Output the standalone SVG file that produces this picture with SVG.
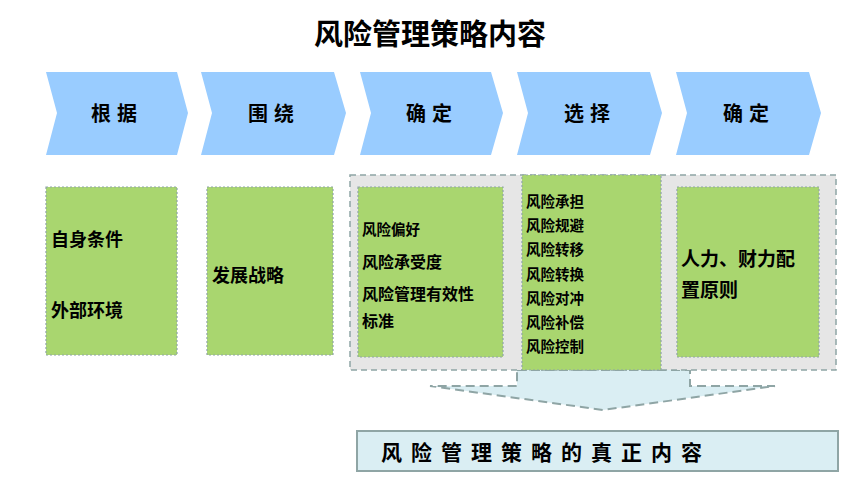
<svg xmlns="http://www.w3.org/2000/svg" width="859" height="483" viewBox="0 0 859 483">
<style>
text{font-family:"Noto Sans CJK SC","Liberation Sans",sans-serif;font-weight:bold;fill:#000}
.ch{fill:#99CCFF}
.ct{font-size:20px;letter-spacing:6px}
.g{fill:#A9D66F;stroke:#8FA5A5;stroke-width:1.2;stroke-dasharray:2 2}
.b{font-size:18px}
.s{font-size:14.5px}
</style>
<rect width="859" height="483" fill="#fff"/>
<text x="430" y="45" font-size="29" text-anchor="middle">风险管理策略内容</text>
<g id="chevrons">
<polygon class="ch" points="46,72 177,72 188,113 177,155 46,155 57,113"/>
<polygon class="ch" points="201,72 334,72 346,113 334,155 201,155 212,113"/>
<polygon class="ch" points="360,72 491,72 503,113 491,155 360,155 371,113"/>
<polygon class="ch" points="517,72 650,72 662,113 650,155 517,155 528,113"/>
<polygon class="ch" points="676,72 809,72 821,113 809,155 676,155 687,113"/>
<text class="ct" x="117" y="121" text-anchor="middle">根据</text>
<text class="ct" x="274" y="121" text-anchor="middle">围绕</text>
<text class="ct" x="432" y="121" text-anchor="middle">确定</text>
<text class="ct" x="590" y="121" text-anchor="middle">选择</text>
<text class="ct" x="749" y="121" text-anchor="middle">确定</text>
</g>
<g id="connectors">
<polygon points="517,370 690,370 690,386 775,386 603,410 430,386 517,386" fill="#DAEEF3" stroke="#8FA5A5" stroke-width="2" stroke-dasharray="9 5"/>
</g>
<g id="container">
<rect x="350" y="175" width="486" height="195" fill="#E6E6E6" stroke="#8FA5A5" stroke-width="1.5" stroke-dasharray="6 4"/>
</g>
<g id="n1"><rect class="g" x="46" y="187" width="131" height="168"/>
<text class="b" x="51" y="246">自身条件</text><text class="b" x="51" y="317">外部环境</text></g>
<g id="n2"><rect class="g" x="207" y="187" width="126" height="168"/>
<text class="b" x="212" y="282">发展战略</text></g>
<g id="n3"><rect class="g" x="358" y="187" width="145" height="170"/>
<text class="s" x="362" y="235" font-size="16">风险偏好</text>
<text class="s" x="362" y="268" style="font-size:16px">风险承受度</text>
<text class="s" x="362" y="300" style="font-size:16px">风险管理有效性</text>
<text class="s" x="362" y="327" style="font-size:16px">标准</text></g>
<g id="n4"><rect class="g" x="522" y="175" width="139" height="195"/>
<text class="s" x="526" y="207">风险承担</text>
<text class="s" x="526" y="231">风险规避</text>
<text class="s" x="526" y="255">风险转移</text>
<text class="s" x="526" y="280">风险转换</text>
<text class="s" x="526" y="304">风险对冲</text>
<text class="s" x="526" y="328">风险补偿</text>
<text class="s" x="526" y="352">风险控制</text></g>
<g id="n5"><rect class="g" x="677" y="187" width="142" height="170"/>
<text class="b" x="681" y="266" style="font-size:19px">人力、财力配</text>
<text class="b" x="681" y="297" style="font-size:19px">置原则</text></g>
<g id="result"><rect x="357" y="431" width="481" height="40" fill="#DAEEF3" stroke="#8FA5A5" stroke-width="2"/>
<text x="381" y="460" font-size="21" letter-spacing="9">风险管理策略的真正内容</text></g>
</svg>
